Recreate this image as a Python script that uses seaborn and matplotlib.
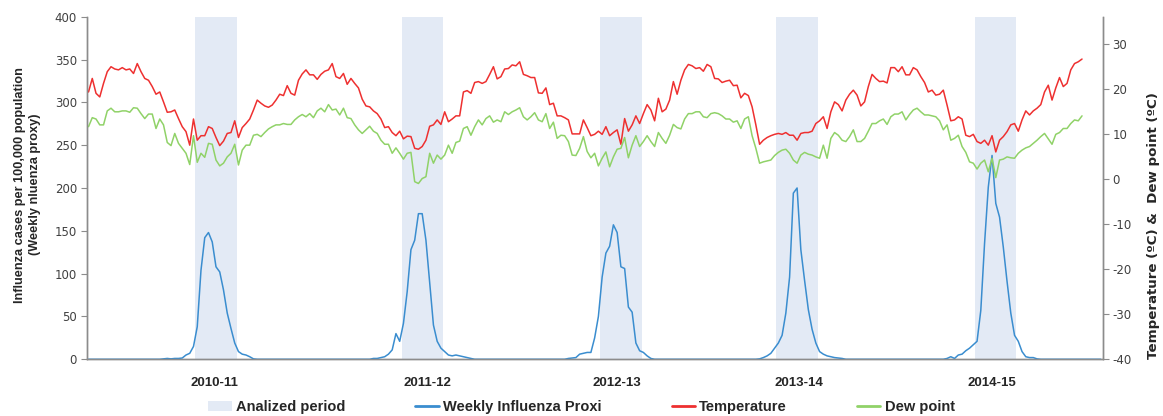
import matplotlib
matplotlib.use("Agg")
import matplotlib.pyplot as plt
from matplotlib.lines import Line2D
from matplotlib.patches import Patch
import numpy as np
import pandas as pd
import seaborn as sns

# weekly temperature (ºC)
temperature = [
    19.3, 22.3, 19.0, 18.2, 21.2, 23.8, 24.9, 24.4, 24.2, 24.7,
    24.2, 24.4, 23.4, 25.6, 23.8, 22.3, 21.9, 20.5, 18.8, 19.3,
    17.1, 14.8, 14.9, 15.3, 13.4, 11.6, 10.5, 7.5, 13.3, 8.6,
    9.6, 9.6, 11.6, 11.2, 9.2, 7.4, 8.4, 10.1, 10.3, 12.9,
    9.2, 11.4, 12.3, 13.3, 15.3, 17.5, 16.8, 16.2, 15.9, 16.4,
    17.5, 18.8, 18.5, 20.7, 19.0, 18.6, 21.9, 23.3, 24.2, 23.1,
    23.1, 22.1, 23.2, 23.9, 24.2, 25.6, 22.7, 22.3,
    23.4, 21.0, 22.3, 21.2, 20.2, 17.7, 16.2, 16.0, 15.1, 14.5,
    13.3, 11.4, 11.6, 10.3, 9.6, 10.6, 8.9, 9.5, 9.4, 6.8,
    6.6, 7.2, 8.6, 11.7, 12.0, 13.1, 12.1, 14.9, 12.7, 13.3,
    14.0, 14.0, 19.3, 19.6, 19.0, 21.4, 21.6, 21.2, 21.6, 23.2,
    24.9, 22.2, 22.7, 24.4, 24.5, 25.3, 25.1, 26.0, 23.2, 22.9,
    22.5, 22.5, 19.1, 19.0, 20.2, 16.5, 16.8, 14.0, 14.0, 13.6,
    13.1, 10.0, 10.0, 10.0, 13.1, 11.4, 9.6, 9.9,
    10.6, 9.9, 11.6, 9.6, 10.3, 10.9, 7.7, 13.4, 10.6, 12.0,
    14.0, 12.3, 14.5, 16.5, 15.3, 12.9, 17.9, 14.9, 15.5, 17.5,
    21.6, 18.8, 21.9, 24.2, 25.4, 25.1, 24.5, 24.7, 23.9, 25.4,
    24.9, 22.3, 22.2, 21.4, 21.7, 21.9, 20.7, 20.8, 18.0, 19.0,
    18.5, 16.0, 12.0, 7.7, 8.6, 9.2, 9.6, 9.9, 10.1, 9.9,
    10.3, 9.7, 9.7, 8.6, 10.1, 10.3, 10.3, 10.6, 12.3, 12.9,
    13.8, 11.2, 14.9, 17.1, 16.5, 15.1, 17.5, 18.8,
    19.7, 18.6, 16.2, 17.1, 20.5, 23.2, 22.3, 21.6, 21.7, 21.3,
    24.7, 24.7, 23.8, 24.9, 23.1, 23.1, 24.7, 24.2, 22.7, 21.4,
    19.3, 19.7, 18.6, 18.8, 19.7, 16.4, 12.9, 13.1, 13.8, 13.3,
    9.7, 9.4, 9.9, 8.3, 7.9, 8.6, 7.5, 9.6, 6.0, 8.6,
    9.4, 10.5, 12.0, 12.3, 10.6, 13.1, 15.1, 14.2, 15.1, 15.7,
    16.5, 19.3, 20.8, 17.5, 20.2, 22.5, 20.5, 21.2, 24.2, 25.6,
    26.0, 26.6,
]

# weekly dew point (ºC)
dew_point = [
    11.6, 13.6, 13.3, 12.0, 12.0, 15.1, 15.7, 14.9, 14.9, 15.1,
    15.1, 14.8, 15.8, 15.7, 14.5, 13.4, 14.4, 14.4, 11.2, 13.3,
    12.0, 8.1, 7.4, 10.1, 7.9, 6.8, 5.7, 3.2, 9.6, 3.7,
    5.7, 4.8, 7.9, 7.7, 4.2, 2.9, 3.5, 4.9, 5.7, 7.7,
    3.1, 6.4, 7.5, 7.5, 9.7, 9.9, 9.4, 10.3, 11.1, 11.6,
    12.0, 12.0, 12.3, 12.1, 12.1, 13.1, 13.8, 14.3, 13.8, 14.5,
    13.6, 15.1, 15.7, 14.9, 16.5, 15.3, 15.5, 14.2,
    15.7, 13.6, 13.4, 12.0, 10.9, 10.1, 10.9, 11.7, 10.6, 10.1,
    8.6, 7.7, 7.7, 5.7, 6.9, 5.7, 4.4, 5.7, 5.9, -0.6,
    -1.0, 0.1, 0.5, 5.7, 3.5, 5.3, 4.4, 5.3, 7.5, 5.7,
    8.1, 8.4, 11.2, 11.6, 9.7, 11.6, 13.1, 12.0, 13.4, 14.0,
    12.6, 13.1, 12.7, 14.9, 14.3, 14.9, 15.3, 15.8, 13.8, 13.1,
    13.8, 14.7, 13.1, 12.7, 14.5, 11.2, 12.6, 9.0, 9.7, 9.6,
    8.3, 5.3, 5.2, 6.8, 9.4, 6.1, 4.7, 5.7,
    2.9, 4.6, 6.0, 2.7, 4.9, 6.6, 6.8, 9.2, 4.7, 7.5,
    9.6, 7.2, 8.3, 9.6, 8.3, 7.2, 10.3, 9.0, 7.9, 9.7,
    12.1, 11.4, 11.1, 13.3, 14.5, 14.5, 14.9, 14.9, 13.8, 13.6,
    14.5, 14.7, 14.5, 14.0, 13.3, 13.3, 12.6, 12.9, 11.2, 13.3,
    13.8, 9.6, 6.8, 3.5, 3.8, 4.0, 4.2, 5.2, 5.9, 6.4,
    6.6, 5.7, 4.2, 3.5, 5.3, 5.9, 5.5, 5.3, 4.9, 4.6,
    7.5, 4.6, 9.0, 10.3, 9.7, 8.6, 8.3, 9.4,
    10.9, 8.3, 8.3, 9.0, 10.6, 12.3, 12.3, 12.9, 13.3, 12.1,
    13.8, 14.4, 14.4, 14.9, 13.1, 14.3, 15.3, 15.7, 14.9, 14.2,
    14.2, 14.0, 13.8, 12.9, 10.9, 12.0, 8.6, 9.0, 9.7, 7.2,
    5.9, 3.8, 3.5, 2.2, 3.5, 4.2, 1.6, 4.6, 0.3, 4.2,
    4.4, 4.9, 4.7, 4.6, 5.7, 6.4, 6.9, 7.2, 7.9, 8.6,
    9.4, 10.1, 8.9, 7.7, 9.9, 10.3, 11.2, 11.2, 12.3, 13.1,
    12.9, 14.0,
]

# weekly influenza proxy (cases per 100,000)
influenza = [
    0, 0, 0, 0, 0, 0, 0, 0, 0, 0,
    0, 0, 0, 0, 0, 0, 0, 0, 0, 0,
    0.5, 1, 0.5, 1, 1, 1.5, 5, 7, 15, 38,
    104, 142, 148, 137, 108, 102, 81, 54, 36, 19,
    9, 6, 5, 3, 0.5, 0, 0, 0, 0, 0,
    0, 0, 0, 0, 0, 0, 0, 0, 0, 0,
    0, 0, 0, 0, 0, 0, 0, 0, 0, 0,
    0, 0, 0, 0, 0, 0, 1, 1, 2, 3,
    6, 11, 30, 21, 42, 79, 128, 139, 170, 170,
    139, 89, 40, 21, 13, 9, 5, 4, 5, 4,
    3, 2, 1, 0, 0, 0, 0, 0, 0, 0,
    0, 0, 0, 0, 0, 0, 0, 0, 0, 0,
    0, 0, 0, 0, 0, 0, 0, 0, 1, 1.5,
    2, 6, 7, 8, 8, 25, 50, 96, 124, 132,
    157, 148, 108, 106, 61, 55, 19, 10, 8, 4,
    1, 0, 0, 0, 0, 0, 0, 0, 0, 0,
    0, 0, 0, 0, 0, 0, 0, 0, 0, 0,
    0, 0, 0, 0, 0, 0, 0, 0, 0, 0.5,
    2, 4, 7, 13, 19, 28, 54, 96, 194, 200,
    128, 92, 58, 35, 19, 9, 6, 4, 3, 2,
    1.5, 1, 0, 0, 0, 0, 0, 0, 0, 0,
    0, 0, 0, 0, 0, 0, 0, 0, 0, 0,
    0, 0, 0, 0, 0, 0, 0, 0, 0, 1,
    3, 1, 5, 6, 10, 13, 17, 21, 57, 135,
    201, 238, 182, 166, 131, 91, 54, 28, 21, 9,
    3, 2, 2, 0.5, 0, 0, 0, 0, 0, 0,
    0, 0, 0, 0, 0, 0, 0, 0, 0, 0,
    0,
]

season_labels = ["2010-11", "2011-12", "2012-13", "2013-14", "2014-15"]
season_start = [29, 84, 137, 184, 237]   # first week of each analysed period
season_weeks = 11
label_weeks = [33.5, 90.5, 141, 189.5, 241]

SHADE = "#e3eaf5"
BLUE = "#3a8dcf"
RED = "#ee3030"
GREEN = "#90d268"
GREY = "#8c8c8c"
NARROW = ["Liberation Sans Narrow", "Liberation Sans", "DejaVu Sans"]

sns.set_style("white")
plt.rcParams["font.family"] = ["DejaVu Sans"]
plt.rcParams["axes.unicode_minus"] = False

flu = pd.DataFrame({"week": np.arange(len(influenza)), "cases": influenza})
clim = pd.DataFrame({
    "week": np.arange(len(temperature)),
    "temperature": temperature,
    "dew_point": dew_point,
})

fig = plt.figure(figsize=(11.63, 4.16), dpi=100)
ax = fig.add_axes([0.0745, 0.1363, 0.8736, 0.8236])
ax2 = ax.twinx()

for start in season_start:
    ax.axvspan(start - 0.5, start + season_weeks - 0.5, color=SHADE, lw=0, zorder=0)

sns.lineplot(data=flu, x="week", y="cases", ax=ax, color=BLUE, lw=1.1, zorder=3)
sns.lineplot(data=clim, x="week", y="temperature", ax=ax2, color=RED, lw=1.1)
sns.lineplot(data=clim, x="week", y="dew_point", ax=ax2, color=GREEN, lw=1.1)

ax.set_xlim(-0.5, len(influenza) - 0.5)
ax.set_ylim(0, 400)
ax2.set_ylim(-40, 36)
ax.set_yticks(range(0, 401, 50))
ax2.set_yticks(range(-40, 31, 10))

for a in (ax, ax2):
    a.spines["top"].set_visible(False)
    for side in ("left", "right", "bottom"):
        a.spines[side].set_color(GREY)
        a.spines[side].set_linewidth(1)
    a.tick_params(axis="y", direction="out", length=4, color=GREY,
                  labelsize=8.5, labelcolor="#404040", pad=3)
    a.set_xlabel("")

ax.set_xticks(label_weeks)
ax.set_xticklabels(season_labels, fontweight="bold", family=NARROW, fontsize=9.5)
ax.tick_params(axis="x", which="major", length=0, pad=13)
ax.set_xticks(np.arange(-0.5, len(influenza), 2), minor=True)
ax.tick_params(axis="x", which="minor", direction="out", length=4, color=GREY)

ax.set_ylabel("Influenza cases per 100,000 population\n(Weekly nluenza proxy)",
              fontweight="bold", family=NARROW, fontsize=9.2, linespacing=1.35)
ax.yaxis.label.set_va("center")
ax.yaxis.set_label_coords(-0.0585, 0.51)
ax2.set_ylabel("Temperature (ºC) &  Dew point (ºC)", fontweight="bold", fontsize=9.6)
ax2.yaxis.label.set_va("center")
ax2.yaxis.set_label_coords(1.0505, 0.39)

handles = [
    Patch(facecolor=SHADE, edgecolor="none"),
    Line2D([], [], color=BLUE, lw=2),
    Line2D([], [], color=RED, lw=2),
    Line2D([], [], color=GREEN, lw=2),
]
labels = ["Analized period", "Weekly Influenza Proxi", "Temperature", "Dew point"]
fig.legend(handles, labels, loc="center", bbox_to_anchor=(0.5, 0.022), ncol=4,
           frameon=False, prop={"family": NARROW, "weight": "bold", "size": 10.5},
           handlelength=1.6, handletextpad=0.3, columnspacing=4.8)

fig.savefig("out.png", dpi=100)
